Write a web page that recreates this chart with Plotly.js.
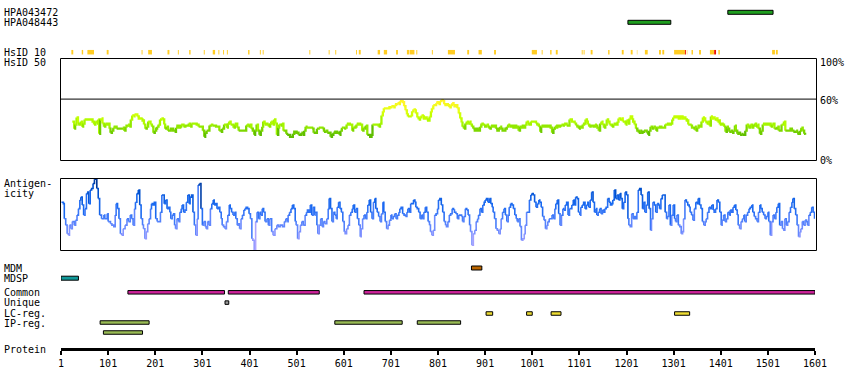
<!DOCTYPE html>
<html><head><meta charset="utf-8">
<script src="https://cdn.plot.ly/plotly-3.0.1.min.js"></script>
<style>html,body{margin:0;padding:0;background:#fff}</style>
</head><body><div id="chart" style="width:850px;height:390px"></div>
<script>
// ---------- data ----------
const tickVals = [1,101,201,301,401,501,601,701,801,901,1001,1101,1201,1301,1401,1501,1601];
const tickText = ['1','101','201','301','401','501','601','701','801','901','1001','1101','1201','1301','1401','1501','1601'];

const hpa043472Start = [1416], hpa043472End = [1512];
const hpa048443Start = [1204], hpa048443End = [1295];

const hsid10Start = [23,45,57,98,172,186,227,249,273,304,323,335,345,353,398,423,429,
  528,569,583,627,633,673,686,712,735,741,755,788,822,863,887,920,1000,1021,1039,1051,
  1106,1110,1125,1162,1191,1210,1223,1240,1270,1277,1302,1329,1339,1355,1378,1396,1510,1518];
const hsid10End = [27,48,71,102,174,194,231,251,276,306,328,337,347,355,401,425,431,
  530,571,585,629,637,678,693,716,740,751,757,790,837,867,894,924,1011,1023,1042,1055,
  1108,1112,1129,1165,1195,1214,1224,1246,1274,1281,1325,1330,1342,1359,1387,1399,1516,1522];
const hsid10RedStart = [1325,1387];
const hsid10RedEnd = [1327,1391];

const simPos = [25,29,31,34,37,40,43,46,48,51,56,60,64,68,71,74,77,80,82,84,
87,89,92,95,98,101,104,106,109,112,115,119,123,128,132,135,138,140,143,146,
149,152,155,157,160,163,166,169,172,174,177,180,183,186,188,191,194,197,200,203,
205,208,211,214,217,220,222,225,228,231,234,237,239,242,245,248,251,254,256,261,
265,268,272,275,278,282,286,289,293,299,302,305,307,310,313,316,319,322,326,330,
333,337,340,343,347,350,353,355,358,361,364,367,370,372,375,378,382,387,391,394,
396,399,402,405,408,411,413,416,419,422,425,428,430,433,436,439,442,445,447,450,
453,456,459,462,464,467,470,473,476,479,481,484,487,490,493,496,498,501,505,
508,511,514,517,520,522,527,531,534,537,541,544,548,552,556,559,562,566,570,573,
576,579,583,587,592,594,597,602,604,607,610,614,619,621,626,628,631,636,640,643,
645,648,651,654,657,660,662,667,671,675,678,681,684,686,689,694,698,702,706,709,
712,715,718,720,723,726,729,732,735,737,740,743,746,749,752,754,757,760,763,766,
769,771,774,777,780,783,786,788,791,794,797,800,802,805,808,811,814,817,819,822,
825,828,831,834,836,839,842,845,848,851,853,856,859,862,865,868,870,873,876,879,
882,885,887,890,893,896,899,901,904,907,910,913,916,918,921,924,927,930,933,935,
938,941,944,947,950,952,955,958,961,964,967,969,972,975,978,981,984,986,989,992,
995,998,1001,1003,1006,1009,1012,1015,1018,1020,1023,1026,1029,1032,1034,1037,1040,1043,1046,1049,
1051,1054,1057,1060,1063,1066,1068,1071,1074,1077,1080,1083,1085,1088,1091,1094,1097,1100,1102,1105,
1108,1111,1114,1117,1119,1122,1125,1128,1131,1134,1136,1139,1142,
1145,1148,1150,1153,1156,1159,1162,1165,1167,1170,1173,1176,1179,1182,1184,1187,1190,1193,1196,1199,
1201,1204,1207,1210,1213,1215,1218,1221,1224,1227,1230,1232,1235,1238,1241,1244,1247,1249,1252,1255,
1258,1261,1264,1266,1269,1272,1275,1278,1281,1283,1286,1289,1292,1295,1298,1300,1303,1306,1309,1312,
1315,1317,1320,1323,1326,1329,1332,1334,1337,1340,1343,1346,1348,1351,1354,1357,1360,1363,1365,1368,
1371,1374,1377,1380,1382,1385,1388,1391,1394,1397,1399,1402,1405,1408,1411,1414,1416,1419,1422,1425,
1428,1431,1433,1436,1439,1442,1445,1447,1450,1453,1456,1459,1462,1464,1467,1470,1473,1476,1479,1481,
1484,1487,1490,1493,1496,1498,1501,1504,1507,1510,1513,1515,1518,1521,1524,1527,1530,1532,1535,1538,
1541,1544,1547,1549,1552,1555,1558,1561,1563,1566,1569,1572,1575,1578,1580];
const simVal = [38,31,35,42,36,35,38,33,36,40,40,40,40,38,35,38,36,40,26,40,
41,36,33,36,35,36,31,27,29,32,33,31,31,31,32,29,33,34,35,33,
40,44,43,45,45,43,41,41,40,39,35,31,33,38,38,35,33,27,29,31,
33,35,40,41,40,35,31,33,29,29,31,31,29,28,32,34,32,33,35,33,
34,34,36,33,36,36,36,35,33,33,29,23,27,29,29,34,35,34,34,33,
33,29,28,31,35,35,32,36,38,35,35,32,35,36,32,29,29,29,29,34,
35,33,35,31,29,25,29,35,29,25,29,33,38,35,36,35,33,36,38,35,
40,36,25,32,35,34,36,29,29,26,25,25,23,23,26,28,28,27,25,
25,27,25,29,33,32,32,32,31,27,27,31,32,32,31,28,29,27,27,23,
25,27,28,27,25,29,32,31,32,35,36,35,29,32,33,35,36,35,29,32,
31,34,25,25,23,25,35,35,35,33,36,44,48,51,51,51,52,53,52,54,
55,56,55,58,58,57,53,49,45,43,43,44,48,50,49,46,42,40,42,44,
43,41,42,40,39,43,48,51,54,54,56,57,55,58,59,58,55,54,55,54,
52,54,56,54,53,54,51,46,41,37,33,31,36,38,36,38,35,33,31,29,
31,29,29,33,36,35,34,33,35,33,31,33,34,33,34,31,29,31,33,31,
29,29,31,33,35,34,33,34,32,34,32,33,29,33,32,34,32,35,38,36,
35,38,38,38,38,36,35,33,28,33,34,33,34,33,33,34,32,27,31,33,
32,34,33,34,35,34,35,36,34,34,40,40,38,38,36,34,33,31,33,32,
35,36,40,38,35,33,34,34,33,35,34,32,29,
36,38,35,32,35,40,38,35,35,33,35,36,35,38,41,40,41,38,38,35,
39,36,41,43,40,38,35,31,29,27,29,27,28,29,29,27,25,29,33,31,
33,32,29,32,32,33,32,32,32,35,35,36,35,36,40,42,43,42,43,41,
43,43,41,42,40,39,35,35,34,32,31,33,29,32,34,33,38,42,41,38,
36,38,34,43,41,42,40,41,38,39,35,36,35,33,28,33,31,28,29,27,
29,34,29,26,27,25,26,25,25,29,35,33,32,35,32,34,36,33,35,31,
26,29,35,36,35,36,35,36,33,35,36,31,31,33,29,29,35,35,38,29,
29,29,29,31,29,28,28,29,27,26,29,32,29,26,25];

const antPos = [2,6,8,11,14,17,19,22,25,29,32,35,38,41,43,46,49,52,55,58,
60,63,66,69,72,75,77,80,83,87,92,94,99,101,106,109,113,116,118,121,
124,127,130,133,137,141,144,148,151,154,157,159,162,165,168,171,174,176,179,182,
185,188,191,193,196,199,202,205,208,212,215,217,220,223,226,229,232,234,237,240,
242,244,247,250,253,256,258,261,264,267,270,273,275,278,281,284,287,290,292,295,
298,301,304,307,309,312,315,318,321,324,326,329,332,335,338,341,343,346,349,352,
355,358,360,363,366,369,372,375,377,380,383,386,389,391,394,397,400,403,406,408,
411,414,417,420,423,425,428,431,434,438,441,444,448,451,455,459,462,466,471,475,
478,481,483,486,489,492,495,498,500,503,506,509,512,515,519,522,524,527,530,533,536,539,
540,544,546,549,552,555,558,561,565,568,570,573,576,579,582,585,587,590,593,596,
599,602,604,607,610,613,616,619,621,624,627,630,633,636,638,641,644,647,650,652,
655,658,661,664,667,669,672,675,678,681,684,686,689,692,695,698,701,703,706,709,
712,715,718,720,723,726,729,732,735,737,740,743,746,749,752,754,757,760,763,766,
768,771,774,777,780,783,785,788,791,794,797,800,802,805,808,811,814,817,819,822,
825,828,831,834,836,839,842,845,848,851,853,856,859,862,865,868,870,873,876,879,
882,885,887,890,893,896,899,901,904,907,910,913,916,918,921,924,927,930,933,935,
938,941,944,947,950,952,955,958,961,964,967,969,972,975,978,981,984,986,989,992,
995,998,1000,1003,1006,1009,1012,1015,1017,1020,1023,1026,1029,1032,1034,1037,1040,1043,1046,1049,
1051,1054,1057,1060,1063,1066,1068,1071,1074,1077,1080,
1081,1085,1088,1090,1093,1096,1099,1102,1104,1107,1110,1113,1116,1119,1121,1124,1127,1130,1133,1136,
1138,1141,1144,1147,1150,1153,1155,1158,1161,1164,1167,1170,1172,1175,1178,1181,1184,1187,1189,1192,
1195,1198,1201,1204,1206,1209,1212,1215,1218,1220,1223,1226,1229,1232,1235,1237,1240,1243,1246,1249,
1252,1254,1257,1260,1263,1266,1269,1271,1274,1277,1280,1283,1286,1288,1291,1294,1297,1300,1303,1305,
1308,1311,1314,1317,1320,1322,1325,1328,1331,1334,1336,1339,1342,1345,1348,1351,1353,1356,1359,1362,
1365,1368,1370,1373,1376,1379,1382,1385,1387,1390,1393,1396,1399,1402,1404,1407,1410,1413,1416,1419,
1421,1424,1427,1430,1433,1436,1438,1441,1444,1447,1450,1452,1455,1458,1461,1464,1467,1469,1472,1475,
1478,1481,1484,1486,1489,1492,1495,1498,1501,1503,1506,1509,1512,1515,1518,1520,1523,1526,1529,1532,
1535,1537,1540,1543,1546,1549,1552,1554,1557,1560,1563,1566,1569,1571,1574,1577,1580,1583,1585,1588,
1591,1594,1597,1600];
const antVal = [67,65,44,35,23,21,35,30,40,35,42,49,58,70,74,63,49,58,79,81,
65,84,86,93,99,99,86,72,49,44,49,44,51,40,37,35,33,49,65,58,
44,23,21,30,35,44,40,49,44,35,58,67,79,84,63,44,35,30,16,26,
37,44,58,65,63,67,44,40,40,53,77,77,65,70,58,60,53,44,49,51,
35,30,44,40,53,58,63,53,56,67,77,65,74,77,53,35,21,44,91,93,
58,35,40,33,30,40,35,58,65,70,63,65,58,60,53,44,35,33,30,40,
49,63,58,53,49,53,44,35,37,30,44,49,56,58,60,58,51,44,16,14,
0,40,53,44,53,49,58,53,40,44,35,44,26,21,30,35,33,35,33,40,
44,40,49,53,58,63,58,40,35,16,26,35,40,35,49,53,56,53,63,49,60,49,
53,35,23,35,44,33,40,37,44,58,72,58,40,53,49,44,60,67,58,53,
40,26,23,30,35,49,53,58,63,53,58,44,35,19,30,44,49,44,53,63,
70,53,44,67,72,58,53,47,40,51,67,53,40,30,35,42,49,44,47,51,
44,49,53,58,60,51,49,47,53,58,53,65,65,70,67,60,58,53,44,49,
44,53,60,53,40,35,26,21,28,49,51,58,70,72,63,53,40,35,33,40,
49,51,58,56,53,51,44,49,49,47,40,47,58,56,49,35,26,7,23,28,
40,44,49,58,53,63,67,70,72,67,72,65,60,53,44,30,28,23,30,44,
53,58,49,40,49,60,65,63,58,49,44,40,44,33,14,16,23,35,53,53,
70,77,79,77,67,60,65,70,67,60,47,42,30,35,40,44,44,49,44,58,
65,70,51,35,49,58,56,63,67,49,58,
58,63,70,63,74,72,53,49,60,63,67,58,63,67,60,70,81,67,53,58,
49,53,58,51,56,53,58,60,72,67,63,65,70,84,72,77,70,79,72,58,
67,81,77,44,35,33,51,44,47,44,53,84,86,77,58,67,53,63,81,58,
28,44,67,63,53,65,63,58,72,77,77,53,44,47,63,35,49,63,44,40,
49,35,33,23,26,44,70,67,63,60,53,49,42,58,67,65,72,63,58,40,
35,40,44,53,60,58,63,56,53,58,70,67,53,35,42,49,40,44,53,49,
56,53,60,63,56,49,35,30,40,44,49,40,49,53,58,60,63,53,47,44,
40,53,63,58,53,49,44,47,53,40,21,40,49,44,53,60,65,35,40,30,
28,44,35,40,53,60,67,72,58,49,35,19,26,30,40,35,42,40,35,49,
53,60,53,44];

const mdmStart = [872], mdmEnd = [894];
const mdspStart = [1], mdspEnd = [38];
const commonStart = [143,356,644], commonEnd = [348,549,1601];
const uniqueStart = [349], uniqueEnd = [357];
const lcStart = [903,989,1041,1303], lcEnd = [917,1001,1062,1335];
const ipStart = [84,582,757], ipEnd = [188,725,849];
const ip2Start = [91], ip2End = [174];

// ---------- drawing ----------
const FONT = 'DejaVu Sans Mono';
const H = 390, L = 61, R = 35, PW = 850 - L - R;
const px2paperX = p => (p - L) / PW;

function hbar(starts, ends, yc, h, color, outline) {
  return {type:'bar', orientation:'h', base: starts,
    x: ends.map((e,i)=>e - starts[i]), y: starts.map(()=>yc), width: starts.map(()=>h),
    marker:{color:color, line:{color:'#000', width: outline ? 1 : 0}},
    xaxis:'x', yaxis:'y', hoverinfo:'skip', showlegend:false};
}

function lerpColor(stops, v) {
  if (v <= stops[0][0]) return stops[0][1];
  for (let i=1;i<stops.length;i++){
    if (v <= stops[i][0]) {
      const a=stops[i-1], b=stops[i], t=(v-a[0])/(b[0]-a[0]);
      return a[1].map((c,k)=>Math.round(c+(b[1][k]-c)*t));
    }
  }
  return stops[stops.length-1][1];
}
const simStops = [[24,[95,190,0]],[30,[125,215,0]],[35,[160,245,0]],[42,[195,255,0]],[50,[230,255,20]],[57,[255,245,40]]];
const antStops = [[0,[175,165,255]],[25,[125,145,255]],[45,[70,125,250]],[65,[25,105,240]],[85,[0,80,205]],[100,[0,55,150]]];

function segTraces(xs, vs, stops, step, yaxis, width) {
  const out=[]; let cur=null, curKey=null;
  for (let i=0;i<xs.length;i++){
    const key = Math.round(vs[i]/step)*step;
    if (key !== curKey) {
      if (cur) { cur.x.push(xs[i]); cur.y.push(vs[i]); out.push(cur); }
      const c = lerpColor(stops, key);
      cur = {type:'scatter', mode:'lines', x:[xs[i]], y:[vs[i]], xaxis:'x', yaxis:yaxis,
        line:{color:'rgb('+c.join(',')+')', width:width, shape:'hv'}, hoverinfo:'skip', showlegend:false};
      curKey = key;
    } else { cur.x.push(xs[i]); cur.y.push(vs[i]); }
  }
  if (cur) out.push(cur);
  return out;
}

const traces = [
  hbar(hpa043472Start, hpa043472End, 12.3, 4, '#1f9e1f', true),
  hbar(hpa048443Start, hpa048443End, 22.3, 4, '#1f9e1f', true),
  hbar(hsid10Start, hsid10End, 52.2, 4.5, '#ffcc22', false),
  hbar(hsid10RedStart, hsid10RedEnd, 52.2, 4.5, '#ee1100', false),
  hbar(mdmStart, mdmEnd, 268, 4, '#bb6600', true),
  hbar(mdspStart, mdspEnd, 278.2, 4, '#129a9a', true),
  hbar(commonStart, commonEnd, 292.3, 3.5, '#cc2299', true),
  hbar(uniqueStart, uniqueEnd, 302.6, 3.5, '#999999', true),
  hbar(lcStart, lcEnd, 313.5, 3.5, '#eedd33', true),
  hbar(ipStart, ipEnd, 322.5, 3.5, '#99bb55', true),
  hbar(ip2Start, ip2End, 332.5, 3.5, '#99bb55', true),
  ...segTraces(simPos, simVal, simStops, 3, 'y2', 2.3),
  ...segTraces(antPos, antVal, antStops, 5, 'y3', 1.6)
];

function lbl(text, xpx, ypx, anchor) {
  return {text:text, xref:'paper', yref:'y', x:px2paperX(xpx), y:ypx, xanchor:anchor||'left', yanchor:'middle',
    showarrow:false, font:{family:FONT, size:10, color:'#000'}, borderpad:0};
}

const annotations = [
  lbl('HPA043472', 2.5, 12.8), lbl('HPA048443', 2.5, 22.8),
  lbl('HsID 10', 2.5, 52.3), lbl('HsID 50', 2.5, 62.5),
  lbl('Antigen-', 2.5, 183), lbl('icity', 2.5, 193.2),
  lbl('MDM', 2.5, 268), lbl('MDSP', 2.5, 278),
  lbl('Common', 2.5, 292.7), lbl('Unique', 2.5, 302.5),
  lbl('LC-reg.', 2.5, 313), lbl('IP-reg.', 2.5, 323),
  lbl('Protein', 2.5, 349.5),
  lbl('100%', 818.5, 62), lbl('60%', 818.5, 100), lbl('0%', 818.5, 160.8)
];

const bx0 = px2paperX(60.5), bx1 = px2paperX(816.5);
const shapes = [
  {type:'rect', xref:'paper', yref:'y', x0:bx0, x1:bx1, y0:58.5, y1:160.5, line:{color:'#000', width:1}, layer:'above'},
  {type:'line', xref:'paper', yref:'y2', x0:bx0, x1:bx1, y0:60, y1:60, line:{color:'#000', width:1}, layer:'above'},
  {type:'rect', xref:'paper', yref:'y', x0:bx0, x1:bx1, y0:178.5, y1:250.5, line:{color:'#000', width:1}, layer:'above'}
];

const layout = {
  width:850, height:390, margin:{l:L, r:R, t:0, b:0, pad:0},
  paper_bgcolor:'#fff', plot_bgcolor:'rgba(0,0,0,0)', showlegend:false, barmode:'overlay',
  xaxis:{range:[1,1601], anchor:'free', position:1-349.2/H, showline:true, linewidth:3, linecolor:'#000',
    ticks:'outside', ticklen:4, tickwidth:2, tickcolor:'#000', tickvals:tickVals, ticktext:tickText,
    tickfont:{family:FONT, size:10, color:'#000'}, showgrid:false, zeroline:false, fixedrange:true},
  yaxis:{domain:[0,1], range:[H,0], visible:false, fixedrange:true},
  yaxis2:{domain:[1-160.3/H, 1-58.3/H], range:[0,100], visible:false, fixedrange:true},
  yaxis3:{domain:[1-250.3/H, 1-178.5/H], range:[0,100], visible:false, fixedrange:true},
  annotations:annotations, shapes:shapes
};

Plotly.newPlot('chart', traces, layout, {staticPlot:true, displayModeBar:false});
</script></body></html>
